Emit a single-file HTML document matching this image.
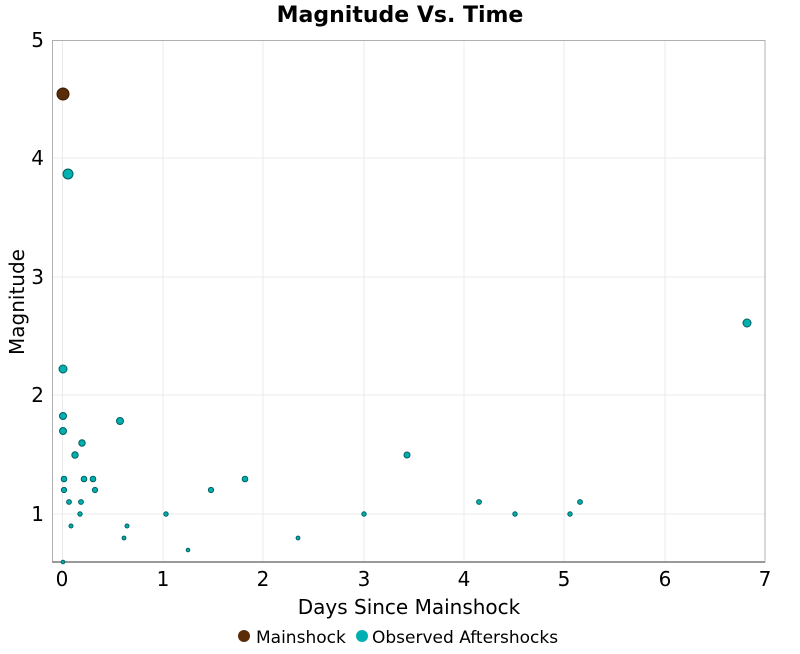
<!DOCTYPE html><html><head><style>body{margin:0;background:#fff;font-family:"DejaVu Sans","Liberation Sans",sans-serif}</style></head><body>
<svg width="800" height="650" xmlns="http://www.w3.org/2000/svg" font-family="DejaVu Sans, Liberation Sans, sans-serif">
<rect width="800" height="650" fill="#fff"/>
<g stroke="#ebebeb" stroke-width="1">
<line x1="62.5" y1="40" x2="62.5" y2="562"/><line x1="163" y1="40" x2="163" y2="562"/><line x1="263" y1="40" x2="263" y2="562"/><line x1="364" y1="40" x2="364" y2="562"/><line x1="464" y1="40" x2="464" y2="562"/><line x1="564" y1="40" x2="564" y2="562"/><line x1="665" y1="40" x2="665" y2="562"/>
<line x1="52" y1="158" x2="765" y2="158"/><line x1="52" y1="277" x2="765" y2="277"/><line x1="52" y1="395" x2="765" y2="395"/><line x1="52" y1="514" x2="765" y2="514"/>
</g>
<rect x="52.5" y="40.5" width="712.5" height="521.5" fill="none" stroke="#b0b0b0"/>
<line x1="52" y1="562" x2="765" y2="562" stroke="#999" stroke-width="2"/>
<g font-size="20" fill="#000" text-anchor="middle">
<text x="62" y="586">0</text><text x="163" y="586">1</text><text x="263" y="586">2</text><text x="364" y="586">3</text><text x="464" y="586">4</text><text x="564" y="586">5</text><text x="665" y="586">6</text><text x="765" y="586">7</text>
</g>
<g font-size="20" fill="#000" text-anchor="end">
<text x="44" y="47">5</text><text x="44" y="165">4</text><text x="44" y="284">3</text><text x="44" y="402">2</text><text x="44" y="521">1</text>
</g>
<text x="400" y="22" font-size="22" font-weight="bold" text-anchor="middle">Magnitude Vs. Time</text>
<text x="409" y="614" font-size="20" text-anchor="middle">Days Since Mainshock</text>
<text transform="translate(24,302) rotate(-90)" font-size="20" text-anchor="middle">Magnitude</text>
<g fill="#00b0b0" stroke="#006060" stroke-width="1">
<circle cx="68" cy="174" r="5"/><circle cx="63" cy="369" r="4"/><circle cx="120" cy="421" r="3.5"/><circle cx="747" cy="323" r="4"/>
<circle cx="63" cy="416" r="3.5"/><circle cx="63" cy="431" r="3.5"/><circle cx="82" cy="443" r="3.2"/><circle cx="75" cy="455" r="3.2"/>
<circle cx="64" cy="479" r="2.8"/><circle cx="84" cy="479" r="2.8"/><circle cx="93" cy="479" r="2.8"/><circle cx="64" cy="490" r="2.6"/><circle cx="95" cy="490" r="2.6"/>
<circle cx="69" cy="502" r="2.4"/><circle cx="81" cy="502" r="2.4"/><circle cx="80" cy="514" r="2.2"/><circle cx="71" cy="526" r="2"/><circle cx="127" cy="526" r="2"/><circle cx="124" cy="538" r="1.9"/><circle cx="63" cy="562" r="1.8"/>
<circle cx="166" cy="514" r="2.2"/><circle cx="188" cy="550" r="1.8"/><circle cx="211" cy="490" r="2.6"/><circle cx="245" cy="479" r="2.8"/>
<circle cx="298" cy="538" r="1.9"/><circle cx="364" cy="514" r="2.2"/><circle cx="407" cy="455" r="3"/><circle cx="479" cy="502" r="2.4"/><circle cx="515" cy="514" r="2.2"/><circle cx="570" cy="514" r="2.2"/><circle cx="580" cy="502" r="2.4"/>
</g>
<circle cx="63" cy="94" r="6" fill="#5a2d0a" stroke="#3a1a00"/>
<circle cx="244" cy="636" r="6" fill="#5a2d0a"/><text x="256" y="643" font-size="17">Mainshock</text>
<circle cx="362" cy="636" r="6" fill="#00b0b0"/><text x="372" y="643" font-size="17">Observed Aftershocks</text>
</svg></body></html>
